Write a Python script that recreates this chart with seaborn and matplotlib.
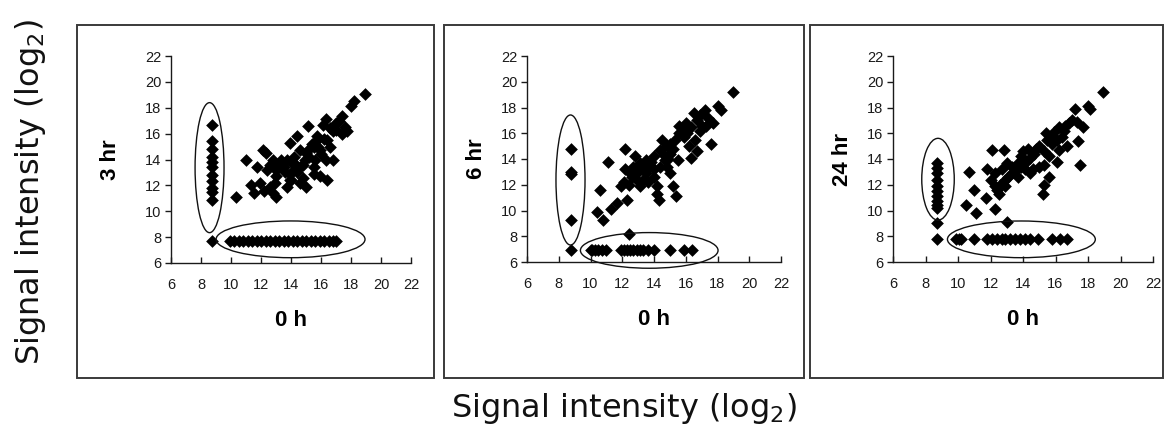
import matplotlib
matplotlib.use("Agg")
import matplotlib.pyplot as plt
from matplotlib.patches import Ellipse, Rectangle
import seaborn as sns
import pandas as pd

# ---- data (log2 signal, 0 h on x) ----
# 3 hr panel
x_3hr_main = [18.9, 18.2, 18.0, 17.4, 17.6, 17.0, 16.8, 17.7, 16.3, 16.1,
              15.1, 14.4, 13.9, 15.7, 16.6, 16.3, 16.8, 15.5, 15.0, 14.9,
              14.6, 14.2, 13.7, 13.3, 12.8, 12.3, 12.1, 11.0, 11.7, 12.4,
              13.0, 14.2, 15.5, 15.9, 16.4, 13.0, 13.9, 14.6, 15.0, 13.7,
              11.9, 11.3, 12.2, 12.6, 12.8, 13.0, 11.5, 10.3, 15.2, 14.2,
              13.5, 15.5, 14.6, 15.9, 15.7, 16.4, 17.0, 13.9,
              13.2, 13.6, 14.0, 14.4, 14.8, 15.2, 15.4, 15.8, 16.0, 16.2,
              14.0, 12.6, 12.9, 14.8, 15.6, 16.6, 17.2, 17.4]
y_3hr_main = [19.1, 18.5, 18.1, 17.4, 16.5, 16.8, 16.2, 16.2, 17.1, 16.7,
              16.6, 15.8, 15.3, 15.8, 15.0, 14.0, 14.0, 15.0, 14.5, 14.0,
              14.7, 14.2, 14.0, 14.0, 14.0, 14.5, 14.7, 14.0, 13.4, 13.2,
              13.2, 13.2, 13.4, 12.7, 12.4, 12.7, 12.4, 12.2, 11.9, 11.9,
              12.2, 12.0, 11.6, 11.9, 11.4, 11.1, 11.4, 11.1, 14.2, 13.7,
              13.4, 12.9, 13.4, 14.7, 15.5, 15.5, 16.3, 12.9,
              13.6, 13.0, 13.8, 13.0, 13.6, 14.8, 15.2, 15.0, 14.4, 15.6,
              12.4, 13.6, 12.2, 12.6, 14.0, 16.4, 17.0, 16.0]
x_3hr_col = [8.7, 8.7, 8.7, 8.7, 8.7, 8.7, 8.7, 8.7, 8.7, 8.7, 8.7, 8.7]
y_3hr_col = [16.7, 15.4, 14.8, 14.2, 13.8, 13.4, 12.8, 12.3, 11.8, 11.5, 10.9, 7.7]
x_3hr_row = [9.9, 10.2, 10.5, 10.8, 11.1, 11.4, 11.7, 12.0, 12.3, 12.6, 12.9, 13.2,
             13.5, 13.8, 14.1, 14.4, 14.7, 15.0, 15.3, 15.6, 15.9, 16.2, 16.5, 16.8, 17.0]
y_3hr_row = [7.7] * len(x_3hr_row)

# 6 hr panel
x_6hr_main = [18.96, 18.2, 18.0, 17.7, 17.6, 17.2, 16.9, 16.7, 16.5, 16.3,
              16.1, 16.6, 16.2, 16.7, 16.3, 15.6, 15.6, 15.3, 15.2, 15.5,
              15.0, 14.8, 14.5, 14.4, 14.7, 15.4, 15.2, 15.0, 14.0, 14.4,
              13.7, 13.5, 13.1, 12.8, 12.2, 13.5, 14.0, 14.2, 14.3, 14.2,
              13.3, 12.9, 12.5, 12.2, 12.1, 12.4, 13.1, 12.6, 11.9, 11.1,
              12.3, 11.7, 11.3, 10.8, 10.6, 10.4, 13.3, 14.0, 14.8,
              17.0, 16.9, 17.4, 15.9, 15.8, 15.0, 14.6, 13.8, 13.0, 12.7,
              13.6, 14.9, 16.0, 17.3, 12.4]
y_6hr_main = [19.24, 17.8, 18.1, 16.8, 15.2, 17.8, 17.4, 17.0, 17.6, 16.5,
              16.0, 15.5, 15.0, 14.6, 14.1, 16.6, 16.0, 15.5, 14.8, 13.9,
              14.4, 15.0, 15.5, 14.7, 13.9, 11.1, 11.9, 12.9, 14.2, 13.4,
              13.4, 13.9, 13.7, 14.2, 14.8, 12.9, 12.6, 11.9, 10.8, 11.3,
              12.4, 12.4, 12.9, 13.2, 12.2, 12.0, 11.9, 12.6, 11.9, 13.8,
              10.8, 10.6, 10.1, 9.3, 11.6, 9.9, 13.3, 13.2, 13.4,
              16.6, 16.2, 17.2, 15.7, 16.3, 15.2, 14.3, 13.8, 13.0, 13.4,
              12.2, 14.0, 16.8, 16.6, 8.2]
x_6hr_col = [8.77, 8.77, 8.77, 8.77, 8.77]
y_6hr_col = [14.8, 13.0, 12.8, 9.3, 6.9]
x_6hr_row = [10.0, 10.1, 10.3, 10.5, 10.7, 11.0, 11.9, 12.1, 12.3, 12.5, 12.7,
             12.9, 13.1, 13.3, 13.6, 14.0, 15.0, 15.9, 16.4]
y_6hr_row = [6.9] * len(x_6hr_row)

# 24 hr panel
x_24hr_main = [18.92, 18.1, 18.0, 17.2, 17.7, 17.4, 17.5, 17.0, 16.6, 16.2,
               15.9, 16.4, 16.1, 15.4, 15.5, 16.7, 16.1, 15.6, 15.3, 15.0,
               14.7, 14.4, 14.3, 13.9, 13.7, 13.3, 13.0, 12.8, 12.1, 12.7,
               13.1, 13.7, 14.1, 15.0, 15.3, 15.6, 15.3, 15.2, 12.9, 12.3,
               12.5, 12.0, 12.3, 13.3, 14.4, 11.8, 10.7, 11.0, 11.1, 10.5,
               11.7, 12.3, 14.6, 13.9, 16.2, 13.0,
               16.8, 17.3, 15.7, 14.8, 14.2, 13.5, 12.9, 12.6, 15.8, 16.5,
               14.0, 12.4]
y_24hr_main = [19.23, 17.9, 18.1, 17.9, 16.5, 15.4, 13.5, 17.0, 16.6, 16.5,
               16.1, 15.7, 15.5, 16.0, 15.5, 15.0, 13.8, 14.2, 14.6, 15.0,
               14.4, 14.1, 14.8, 14.2, 13.7, 13.4, 13.7, 14.7, 14.7, 13.2,
               12.6, 12.6, 13.2, 13.4, 13.5, 12.6, 12.0, 11.3, 11.9, 11.9,
               11.3, 12.4, 12.9, 12.9, 12.9, 13.2, 13.0, 11.6, 9.8, 10.4,
               11.0, 10.1, 13.2, 13.4, 14.7, 9.1,
               16.8, 16.9, 15.8, 14.8, 13.8, 13.1, 12.4, 12.0, 15.2, 16.2,
               14.6, 11.6]
x_24hr_col = [8.72] * 12
y_24hr_col = [13.7, 13.3, 12.9, 12.4, 11.9, 11.5, 11.1, 10.7, 10.4, 10.2, 9.0, 7.8]
x_24hr_row = [9.9, 10.05, 10.2, 11.0, 11.8, 12.1, 12.4, 12.7, 12.9, 13.2, 13.5,
              13.8, 14.1, 14.4, 14.9, 15.8, 16.3, 16.7]
y_24hr_row = [7.8] * len(x_24hr_row)

panel_labels = ["3 hr", "6 hr", "24 hr"]
ticks = [6, 8, 10, 12, 14, 16, 18, 20, 22]

# ellipses circling the off-diagonal genes: (cx, cy, width, height)
ellipses = [
    [(8.57, 13.37, 1.93, 10.05), (13.97, 7.83, 9.93, 2.84)],
    [(8.74, 12.37, 1.83, 10.1), (13.7, 6.9, 8.67, 2.77)],
    [(8.77, 12.43, 2.0, 6.35), (13.9, 7.76, 9.1, 2.85)],
]


def build_frame(xm, ym, xc, yc, xr, yr):
    return pd.DataFrame({"x": xm + xc + xr, "y": ym + yc + yr})


frames = [
    build_frame(x_3hr_main, y_3hr_main, x_3hr_col, y_3hr_col, x_3hr_row, y_3hr_row),
    build_frame(x_6hr_main, y_6hr_main, x_6hr_col, y_6hr_col, x_6hr_row, y_6hr_row),
    build_frame(x_24hr_main, y_24hr_main, x_24hr_col, y_24hr_col, x_24hr_row, y_24hr_row),
]

sns.set_style("white")
plt.rcParams["font.family"] = ["Liberation Sans", "DejaVu Sans"]

W, H = 1165, 433
fig = plt.figure(figsize=(W / 100, H / 100), dpi=100)

# pixel layout of the three panels
axes_px = [(171, 56, 411, 263), (527, 56, 781, 262), (893, 56, 1153, 262)]
boxes_px = [(77, 25, 434, 378), (444, 25, 804, 378), (810, 25, 1163, 378)]
ylab_x = [-0.254, -0.197, -0.196]

for i in range(3):
    bx0, by0, bx1, by1 = boxes_px[i]
    fig.patches.append(Rectangle((bx0 / W, 1 - by1 / H), (bx1 - bx0) / W, (by1 - by0) / H,
                                 transform=fig.transFigure, fill=False,
                                 edgecolor="#3a3a3a", linewidth=1.4))
    x0, y0, x1, y1 = axes_px[i]
    ax = fig.add_axes([x0 / W, 1 - y1 / H, (x1 - x0) / W, (y1 - y0) / H])
    ax.patch.set_alpha(0)
    sns.scatterplot(data=frames[i], x="x", y="y", marker="D", s=42,
                    color="black", linewidth=0, ax=ax, zorder=3)
    for (cx, cy, w, h) in ellipses[i]:
        ax.add_patch(Ellipse((cx, cy), w, h, fill=False, edgecolor="#111111",
                             linewidth=1.0, clip_on=False, zorder=4))
    ax.set_xlim(6, 22)
    ax.set_ylim(6, 22)
    ax.set_xticks(ticks)
    ax.set_yticks(ticks)
    ax.tick_params(axis="x", direction="in", length=4, width=1, labelsize=10.5,
                   colors="#1a1a1a", pad=11, bottom=True)
    ax.tick_params(axis="y", direction="out", length=4, width=1, labelsize=10.5,
                   colors="#1a1a1a", pad=3, left=True)
    for side in ["top", "right"]:
        ax.spines[side].set_visible(False)
    for side in ["left", "bottom"]:
        ax.spines[side].set_color("#1a1a1a")
        ax.spines[side].set_linewidth(1.0)
    ax.set_xlabel("0 h", fontsize=16, fontweight="bold", color="black")
    ax.xaxis.set_label_coords(0.5, -0.28)
    ax.xaxis.label.set_va("center")
    ax.set_ylabel(panel_labels[i], fontsize=16, fontweight="bold", color="black")
    ax.yaxis.set_label_coords(ylab_x[i], 0.5)
    ax.yaxis.label.set_va("center")

label = "Signal intensity (log$_\\mathregular{2}$)"
fig.text(31 / W, 1 - 192 / H, label, rotation=90, ha="center", va="center",
         fontsize=23, family=["DejaVu Sans"], color="#111111")
fig.text(624 / W, 1 - 409 / H, label, ha="center", va="center",
         fontsize=23, family=["DejaVu Sans"], color="#111111")

fig.savefig("out.png", dpi=100)
